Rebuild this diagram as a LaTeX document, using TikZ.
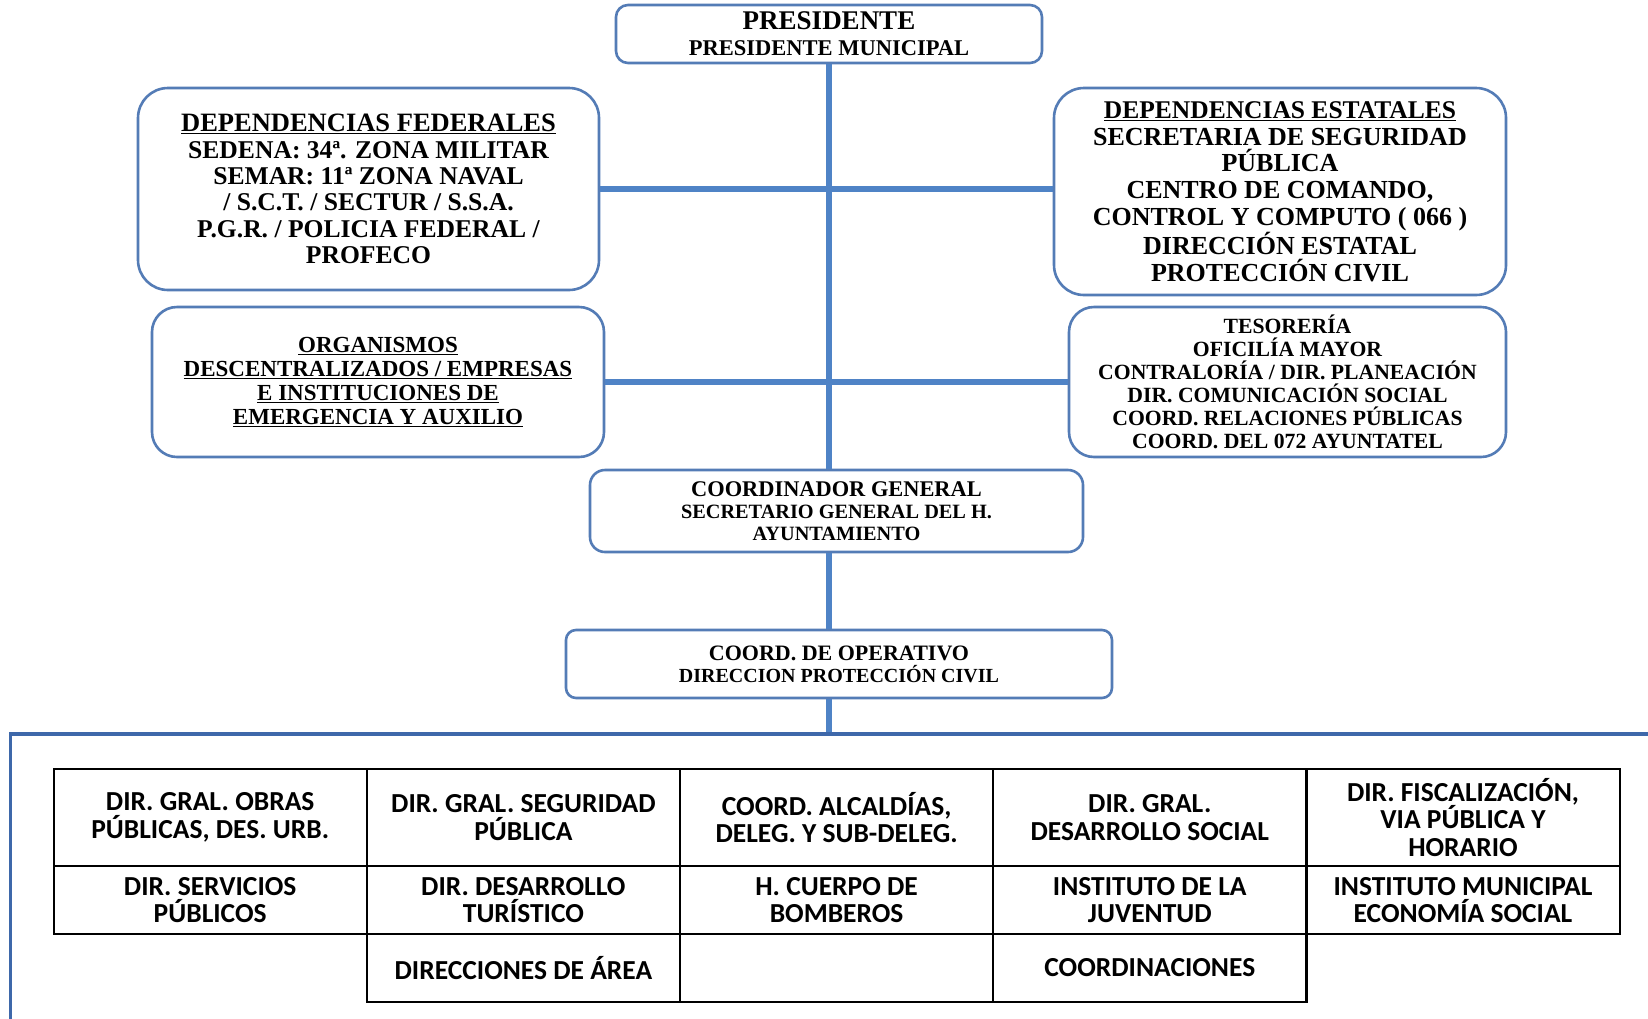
\documentclass[tikz,border=0pt]{standalone}
\usepackage{fontspec}
\setmainfont{Liberation Serif}
\newfontfamily\cellfont{Carlito}
\definecolor{boxblue}{RGB}{84,124,182}
\definecolor{linkblue}{RGB}{79,131,198}
\definecolor{frameblue}{RGB}{62,104,170}
\tikzset{
  box/.style={draw=boxblue, line width=2.6pt, fill=white, align=center, inner sep=0pt, font=\bfseries},
  link/.style={draw=linkblue, line width=6pt},
  cell/.style={draw=black, line width=2.2pt, minimum width=313.2pt, align=center, inner sep=0pt,
    font=\cellfont\bfseries\fontsize{27.5}{27.5}\selectfont},
}
\begin{document}
\begin{tikzpicture}[x=1pt, y=-1pt]
\useasboundingbox (0,0) rectangle (1648,1018);
\fill[white] (0,0) rectangle (1648,1018);

% cabeza
\node[box, rounded corners=12pt, minimum width=426pt, minimum height=58pt,
  font=\bfseries\fontsize{22.5}{26}\selectfont] (pres) at (829,34)
  {{\fontsize{27}{26}\selectfont PRESIDENTE}\\ PRESIDENTE MUNICIPAL};

% dependencias
\node[box, rounded corners=30pt, minimum width=461pt, minimum height=202pt,
  font=\bfseries\fontsize{25.6}{26.3}\selectfont] (fed) at (368.5,189)
  {{\fontsize{26.5}{29}\selectfont\underline{DEPENDENCIAS FEDERALES}}\\
   SEDENA: 34ª. ZONA MILITAR\\ SEMAR: 11ª ZONA NAVAL\\ / S.C.T. / SECTUR / S.S.A.\\
   P.G.R. / POLICIA FEDERAL /\\ PROFECO};
\node[box, rounded corners=30pt, minimum width=452pt, minimum height=207pt,
  font=\bfseries\fontsize{26}{26.8}\selectfont] (est) at (1280,191.5)
  {{\fontsize{25.5}{26.8}\selectfont\underline{DEPENDENCIAS ESTATALES}}\\
   SECRETARIA DE SEGURIDAD\\ PÚBLICA\\ CENTRO DE COMANDO,\\
   CONTROL Y COMPUTO ( 066 )\\ DIRECCIÓN ESTATAL\\ PROTECCIÓN CIVIL};

% organismos y tesoreria
\node[box, rounded corners=25pt, minimum width=452pt, minimum height=150pt,
  font=\bfseries\fontsize{23}{24}\selectfont] (org) at (378,382)
  {\underline{ORGANISMOS}\\ \underline{DESCENTRALIZADOS / EMPRESAS}\\
   \underline{E INSTITUCIONES DE}\\ \underline{EMERGENCIA Y AUXILIO}};
\node[box, rounded corners=25pt, minimum width=437pt, minimum height=150pt,
  font=\bfseries\fontsize{21.7}{23}\selectfont] (tes) at (1287.5,382)
  {TESORERÍA\\ OFICILÍA MAYOR\\ CONTRALORÍA / DIR. PLANEACIÓN\\ DIR. COMUNICACIÓN SOCIAL\\
   COORD. RELACIONES PÚBLICAS\\ COORD. DEL 072 AYUNTATEL};

% coordinacion
\node[box, rounded corners=15pt, minimum width=493pt, minimum height=82pt,
  font=\bfseries\fontsize{20.3}{22}\selectfont] (coord) at (836.5,511)
  {{\fontsize{22.4}{22}\selectfont COORDINADOR GENERAL}\\ SECRETARIO GENERAL DEL H.\\ AYUNTAMIENTO};
\node[box, rounded corners=10pt, minimum width=546pt, minimum height=68pt,
  font=\bfseries\fontsize{20}{22}\selectfont] (ops) at (839,664)
  {{\fontsize{22}{22}\selectfont COORD. DE OPERATIVO}\\ DIRECCION PROTECCIÓN CIVIL};

\coordinate (grp) at (829,734);

\draw[link] (pres.south) -- (pres.south |- coord.north);
\draw[link] (coord.south -| grp) -- (ops.north -| grp);
\draw[link] (ops.south -| grp) -- (grp);
\draw[link] (fed.east) -- (fed.east -| est.west);
\draw[link] (org.east) -- (tes.west);

% marco de las direcciones
\draw[frameblue, line width=3.2pt] (10.5,1040) -- (10.5,734) -- (1670,734);

% direcciones
\node[cell, minimum height=97pt] (obras) at (210.2,817.5) {DIR. GRAL. OBRAS\\ PÚBLICAS, DES. URB.};
\node[cell, minimum height=97pt] (segu) at (523.4,817.5) {DIR. GRAL. SEGURIDAD\\ PÚBLICA};
\node[cell, minimum height=97pt] (alca) at (836.6,817.5) {COORD. ALCALDÍAS,\\ DELEG. Y SUB-DELEG.};
\node[cell, minimum height=97pt] (desa) at (1149.8,817.5) {DIR. GRAL.\\ DESARROLLO SOCIAL};
\node[cell, minimum height=97pt] (fisc) at (1463,817.5) {DIR. FISCALIZACIÓN,\\ VIA PÚBLICA Y\\ HORARIO};
\node[cell, minimum height=68pt] (serv) at (210.2,900) {DIR. SERVICIOS\\ PÚBLICOS};
\node[cell, minimum height=68pt] (turi) at (523.4,900) {DIR. DESARROLLO\\ TURÍSTICO};
\node[cell, minimum height=68pt] (bomb) at (836.6,900) {H. CUERPO DE\\ BOMBEROS};
\node[cell, minimum height=68pt] (juve) at (1149.8,900) {INSTITUTO DE LA\\ JUVENTUD};
\node[cell, minimum height=68pt] (econ) at (1463,900) {INSTITUTO MUNICIPAL\\ ECONOMÍA SOCIAL};
\node[cell, minimum height=68pt] (area) at (523.4,968) {DIRECCIONES DE ÁREA};
\node[cell, minimum height=68pt] (vacio) at (836.6,968) {};
\node[cell, minimum height=68pt] (coords) at (1149.8,968) {COORDINACIONES};
\end{tikzpicture}
\end{document}
